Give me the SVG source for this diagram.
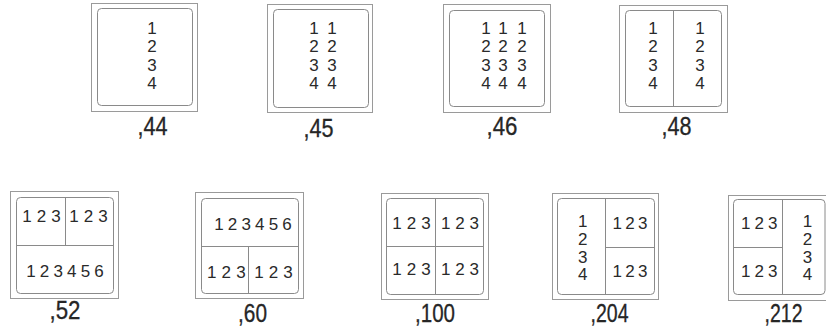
<svg xmlns="http://www.w3.org/2000/svg" width="826" height="330" viewBox="0 0 826 330">
<style>
.o{fill:none;stroke:#9a9a9a;stroke-width:1}
.i{fill:none;stroke:#8a8a8a;stroke-width:1}
.d{stroke:#8a8a8a;stroke-width:1}
.t{font-family:"Liberation Sans",Arial,sans-serif;font-size:17px;fill:#2a2a2a;text-anchor:middle}
.l{font-family:"Liberation Sans",Arial,sans-serif;font-size:25px;fill:#262626;stroke:#262626;stroke-width:0.3;text-anchor:middle}
</style>
<rect width="826" height="330" fill="#fff"/>

<g id="n44">
<rect class="o" x="91.5" y="3.5" width="106" height="108"/>
<rect class="i" x="97.5" y="8.5" width="95" height="97" rx="4"/>
<text class="t" x="152" y="33.8">1</text>
<text class="t" x="152" y="52.1">2</text>
<text class="t" x="152" y="70.5">3</text>
<text class="t" x="152" y="88.5">4</text>
<text class="l" x="152.5" y="135" textLength="30" lengthAdjust="spacingAndGlyphs">,44</text>
</g>

<g id="n45">
<rect class="o" x="267.5" y="4.5" width="105" height="108"/>
<rect class="i" x="273.5" y="9.5" width="95" height="98" rx="4"/>
<text class="t" x="314 332" y="33.8">11</text>
<text class="t" x="314 332" y="52.1">22</text>
<text class="t" x="314 332" y="70.5">33</text>
<text class="t" x="314 332" y="88.5">44</text>
<text class="l" x="318.5" y="137" textLength="30" lengthAdjust="spacingAndGlyphs">,45</text>
</g>

<g id="n46">
<rect class="o" x="443.5" y="4.5" width="107" height="108"/>
<rect class="i" x="449.5" y="10.5" width="95" height="96" rx="4"/>
<text class="t" x="486 503 522" y="33.8">111</text>
<text class="t" x="486 503 522" y="52.1">222</text>
<text class="t" x="486 503 522" y="70.5">333</text>
<text class="t" x="486 503 522" y="88.5">444</text>
<text class="l" x="502" y="135" textLength="31" lengthAdjust="spacingAndGlyphs">,46</text>
</g>

<g id="n48">
<rect class="o" x="619.5" y="5.5" width="108" height="107"/>
<rect class="i" x="625.5" y="10.5" width="96" height="96" rx="4"/>
<line class="d" x1="673.5" y1="10.5" x2="673.5" y2="106.5"/>
<text class="t" x="653 700" y="34">11</text>
<text class="t" x="653 700" y="52.3">22</text>
<text class="t" x="653 700" y="70.7">33</text>
<text class="t" x="653 700" y="89">44</text>
<text class="l" x="676.5" y="135" textLength="30" lengthAdjust="spacingAndGlyphs">,48</text>
</g>

<g id="n52">
<rect class="o" x="10.5" y="191.5" width="108" height="107"/>
<rect class="i" x="16.5" y="197.5" width="97" height="96" rx="4"/>
<line class="d" x1="16.5" y1="245.5" x2="113.5" y2="245.5"/>
<line class="d" x1="65.5" y1="197.5" x2="65.5" y2="245.5"/>
<text class="t" x="27 41.5 56" y="222">123</text>
<text class="t" x="74 88.5 103" y="222">123</text>
<text class="t" x="31 44.6 58.2 71.8 85.4 99" y="276.5">123456</text>
<text class="l" x="65" y="319" textLength="31" lengthAdjust="spacingAndGlyphs">,52</text>
</g>

<g id="n60">
<rect class="o" x="195.5" y="192.5" width="108" height="106"/>
<rect class="i" x="201.5" y="198.5" width="97" height="95" rx="4"/>
<line class="d" x1="201.5" y1="246.5" x2="298.5" y2="246.5"/>
<line class="d" x1="248.5" y1="246.5" x2="248.5" y2="293.5"/>
<text class="t" x="219 232.6 246.2 259.8 273.4 287" y="230">123456</text>
<text class="t" x="211.7 226.3 241" y="277.5">123</text>
<text class="t" x="259 273.5 288" y="277.5">123</text>
<text class="l" x="252.5" y="321.5" textLength="29" lengthAdjust="spacingAndGlyphs">,60</text>
</g>

<g id="n100">
<rect class="o" x="381.5" y="193.5" width="107" height="106"/>
<rect class="i" x="386.5" y="198.5" width="97" height="96" rx="4"/>
<line class="d" x1="386.5" y1="246.5" x2="483.5" y2="246.5"/>
<line class="d" x1="435.5" y1="198.5" x2="435.5" y2="294.5"/>
<text class="t" x="397 411.5 426" y="229">123</text>
<text class="t" x="445.7 460 474.3" y="229">123</text>
<text class="t" x="397 411.5 426" y="275">123</text>
<text class="t" x="445.7 460 474.3" y="275">123</text>
<text class="l" x="435" y="321.5" textLength="40" lengthAdjust="spacingAndGlyphs">,100</text>
</g>

<g id="n204">
<rect class="o" x="552.5" y="193.5" width="106" height="106"/>
<rect class="i" x="557.5" y="198.5" width="97" height="96" rx="4"/>
<line class="d" x1="605.5" y1="198.5" x2="605.5" y2="294.5"/>
<line class="d" x1="605.5" y1="247.5" x2="654.5" y2="247.5"/>
<text class="t" x="582.7" y="227.3">1</text>
<text class="t" x="582.7" y="245">2</text>
<text class="t" x="582.7" y="262.6">3</text>
<text class="t" x="582.7" y="280.2">4</text>
<text class="t" x="617.3 630 642.7" y="229">123</text>
<text class="t" x="617.3 630 642.7" y="276.7">123</text>
<text class="l" x="609.5" y="321.5" textLength="38" lengthAdjust="spacingAndGlyphs">,204</text>
</g>

<g id="n212">
<rect class="o" x="728.5" y="195.5" width="104" height="105"/>
<rect class="i" x="733.5" y="199.5" width="91.5" height="95" rx="4"/>
<line class="d" x1="782.5" y1="199.5" x2="782.5" y2="294.5"/>
<line class="d" x1="733.5" y1="247.5" x2="782.5" y2="247.5"/>
<text class="t" x="745.7 759.2 772.7" y="229.3">123</text>
<text class="t" x="745.7 759.2 772.7" y="276.7">123</text>
<text class="t" x="807.5" y="227.3">1</text>
<text class="t" x="807.5" y="245">2</text>
<text class="t" x="807.5" y="262.6">3</text>
<text class="t" x="807.5" y="280.2">4</text>
<text class="l" x="783.5" y="321.5" textLength="38" lengthAdjust="spacingAndGlyphs">,212</text>
</g>
</svg>
